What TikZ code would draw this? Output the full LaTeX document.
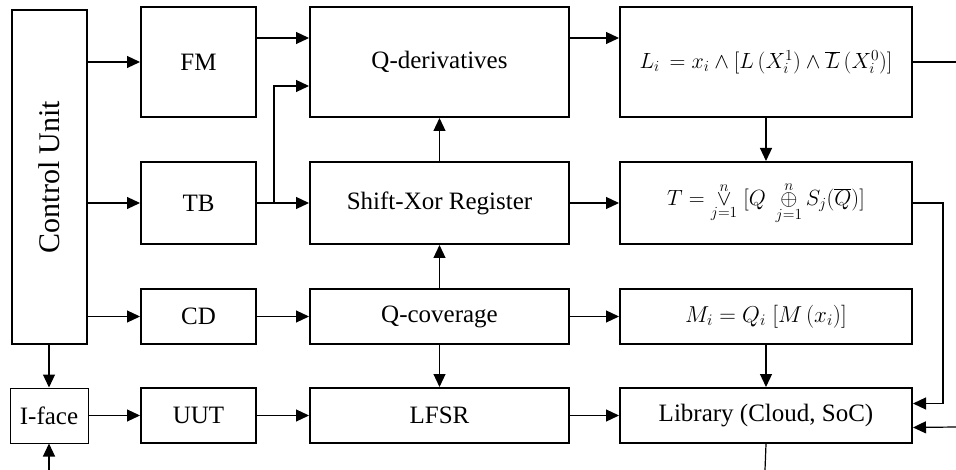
\documentclass[tikz,border=0pt]{standalone}
\usepackage{fix-cm}
\usepackage{graphicx}
\usepackage{fontspec}
\setmainfont{Liberation Serif}
\usetikzlibrary{arrows.meta}

\begin{document}
\begin{tikzpicture}[x=1pt,y=-1pt,
  font=\fontsize{25}{30}\selectfont,
  blk/.style={draw,line width=2pt,inner sep=0pt,minimum width=#1},
  blk/.default=115pt,
  frm/.style={font=\fontsize{#1}{#1}\selectfont},
  arr/.style={line width=1.2pt,-{Triangle[length=13pt,width=12pt]}},
  lin/.style={line width=1.2pt}]
  \useasboundingbox (0,0) rectangle (956,470);

  % blocuri
  \node[blk=75pt,minimum height=334pt,font=\fontsize{30}{36}\selectfont] (cu) at (49.5,177) {\rotatebox{90}{Control Unit}};
  \node[blk,minimum height=110pt] (fm) at (198.5,62) {FM};
  \node[blk,minimum height=82pt] (tb) at (198.5,203) {TB};
  \node[blk,minimum height=55pt] (cd) at (198.5,316.5) {CD};
  \node[blk,minimum height=55pt] (uut) at (198.5,415.5) {UUT};
  \node[draw,line width=1pt,inner sep=0pt,minimum width=78pt,minimum height=55pt] (iface) at (49,415.5) {I-face};

  \node[blk=259pt,minimum height=110pt] (qd) at (439.5,62) {Q-derivatives};
  \node[blk=259pt,minimum height=82pt] (sx) at (439.5,203) {Shift-Xor Register};
  \node[blk=259pt,minimum height=55pt] (qc) at (439.5,316.5) {Q-coverage};
  \node[blk=259pt,minimum height=55pt] (lfsr) at (439.5,415.5) {LFSR};

  \node[blk=292pt,minimum height=110pt,frm=22] (L) at (766,62)
    {$L_i\,=x_i\wedge[L\,(X_i^1)\wedge\overline{L}\,(X_i^0)]$};
  \node[blk=292pt,minimum height=82pt,frm=22] (T) at (766,203)
    {$T=\mathop{\vee}\limits_{j=1}^{n}\;[Q\;\mathop{\oplus}\limits_{j=1}^{n}S_j(\overline{Q})]$};
  \node[blk=292pt,minimum height=55pt,frm=23] (M) at (766,316.5) {$M_i=Q_i\;[M\,(x_i)]$};
  \node[blk=292pt,minimum height=55pt] (lib) at (766,415.5) {Library (Cloud, SoC)};

  % puncte libere
  \coordinate (br) at (274,203);
  \coordinate (tr) at (943,203);
  \coordinate (outL) at (956,62);
  \coordinate (inR) at (956,427);
  \coordinate (outB) at (765,470);
  \coordinate (inB) at (49,470);

  % conexiuni
  \draw[arr] (cu.east |- fm.west) -- (fm.west);
  \draw[arr] (cu.east |- tb.west) -- (tb.west);
  \draw[arr] (cu.east |- cd.west) -- (cd.west);
  \draw[arr] (cu.south -| iface.north) -- (iface.north);
  \draw[arr] (inB) -- (iface.south);
  \draw[arr] (iface) -- (uut);
  \draw[arr] (uut) -- (lfsr);
  \draw[arr] ([yshift=24pt]fm.east) -- ([yshift=24pt]qd.west);
  \draw[arr] (tb) -- (sx);
  \draw[arr] (br) |- ([yshift=-24pt]qd.west);
  \draw[arr] (cd) -- (qc);
  \draw[arr] (sx) -- (qd);
  \draw[arr] (qc) -- (sx);
  \draw[arr] (qc) -- (lfsr);
  \draw[arr] ([yshift=24pt]qd.east) -- ([yshift=24pt]L.west);
  \draw[arr] (sx) -- (T);
  \draw[arr] (qc) -- (M);
  \draw[arr] (lfsr) -- (lib);
  \draw[arr] (L) -- (T);
  \draw[arr] (M) -- (lib);
  \draw[lin] (L.east) -- (outL);
  \draw[arr] (T.east) -- (tr) |- ([yshift=12pt]lib.east);
  \draw[arr] (inR) -- ([yshift=-12pt]lib.east);
  \draw[lin] (lib.south) -- (outB);
\end{tikzpicture}
\end{document}
